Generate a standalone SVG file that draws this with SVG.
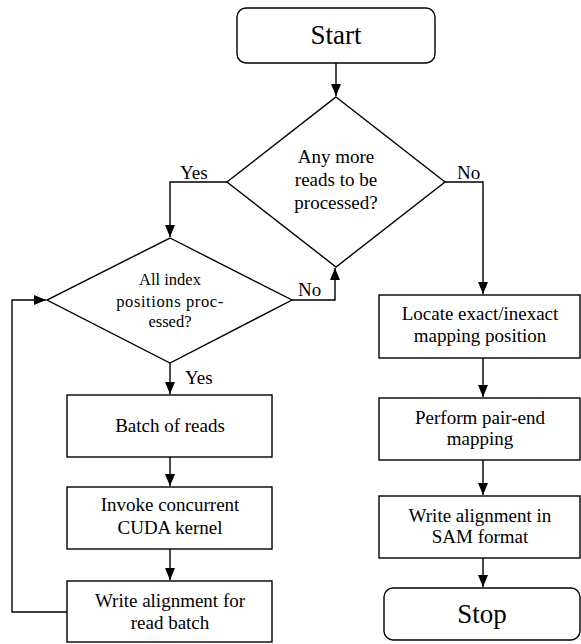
<svg xmlns="http://www.w3.org/2000/svg" width="581" height="644" viewBox="0 0 581 644">
<style>
.s{fill:#fff;stroke:#000;stroke-width:1.4}
.c{fill:none;stroke:#000;stroke-width:1.4}
text{font-family:"Liberation Serif",Tinos,"Times New Roman",Times,"Noto Serif",FreeSerif,"DejaVu Serif",serif;fill:#000;text-anchor:middle}
.t{font-size:19px}
.b{font-size:27px}
.d{font-size:16.5px}
.l{font-size:19px;text-anchor:start}
</style>
<defs>
<marker id="a" viewBox="0 0 12 10" refX="12" refY="5" markerWidth="12" markerHeight="10" markerUnits="userSpaceOnUse" orient="auto">
<path d="M0,0 L12,5 L0,10 Z" fill="#000"/>
</marker>
</defs>
<g id="connectors">
<path class="c" d="M336,63 V96" marker-end="url(#a)"/>
<path class="c" d="M227,182 H170 V237" marker-end="url(#a)"/>
<path class="c" d="M445,182 H483 V294" marker-end="url(#a)"/>
<path class="c" d="M292,300 H335 V268" marker-end="url(#a)"/>
<path class="c" d="M170,363 V394" marker-end="url(#a)"/>
<path class="c" d="M170,457 V486" marker-end="url(#a)"/>
<path class="c" d="M170,549 V580" marker-end="url(#a)"/>
<path class="c" d="M67,612 H12 V300 H46" marker-end="url(#a)"/>
<path class="c" d="M483,358 V397" marker-end="url(#a)"/>
<path class="c" d="M483,460 V495" marker-end="url(#a)"/>
<path class="c" d="M483,558 V587" marker-end="url(#a)"/>
<text class="l" x="180" y="179">Yes</text>
<text class="l" x="457" y="179">No</text>
<text class="l" x="298" y="296">No</text>
<text class="l" x="185" y="384">Yes</text>
</g>
<g id="start">
<rect class="s" x="237" y="8" width="198" height="55" rx="9"/>
<text class="b" x="336" y="44">Start</text>
</g>
<g id="more-reads">
<polygon class="s" points="336,97 445,182 336,267 227,182"/>
<text class="t" x="336" y="163">Any more</text>
<text class="t" x="336" y="186">reads to be</text>
<text class="t" x="336" y="209">processed?</text>
</g>
<g id="index-positions">
<polygon class="s" points="170,238 292,300 170,363 47,300"/>
<text class="d" x="170" y="285">All index</text>
<text class="d" x="170" y="307" letter-spacing="0.6">positions proc-</text>
<text class="d" x="170" y="327">essed?</text>
</g>
<g id="batch">
<rect class="s" x="67" y="395" width="205" height="62"/>
<text class="t" x="170" y="432">Batch of reads</text>
</g>
<g id="invoke">
<rect class="s" x="67" y="487" width="205" height="62"/>
<text class="t" x="170" y="511">Invoke concurrent</text>
<text class="t" x="170" y="534">CUDA kernel</text>
</g>
<g id="write-batch">
<rect class="s" x="67" y="581" width="205" height="61"/>
<text class="t" x="170" y="607">Write alignment for</text>
<text class="t" x="170" y="629">read batch</text>
</g>
<g id="locate">
<rect class="s" x="379" y="295" width="201" height="63"/>
<text class="t" x="480" y="320">Locate exact/inexact</text>
<text class="t" x="480" y="342">mapping position</text>
</g>
<g id="pair-end">
<rect class="s" x="379" y="398" width="201" height="62"/>
<text class="t" x="480" y="424">Perform pair-end</text>
<text class="t" x="480" y="445">mapping</text>
</g>
<g id="sam">
<rect class="s" x="379" y="496" width="201" height="62"/>
<text class="t" x="480" y="522">Write alignment in</text>
<text class="t" x="480" y="543">SAM format</text>
</g>
<g id="stop">
<rect class="s" x="384" y="588" width="196" height="52" rx="9"/>
<text class="b" x="482" y="623">Stop</text>
</g>
</svg>
